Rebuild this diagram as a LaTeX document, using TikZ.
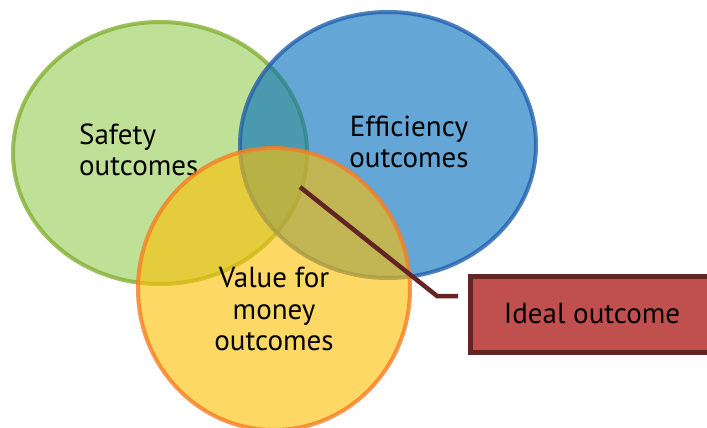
\documentclass[tikz,border=0pt]{standalone}
\usepackage{fontspec}
\setmainfont{PT Sans}
\begin{document}
\begin{tikzpicture}[x=1pt,y=-1pt,
  set/.style={line width=4pt, fill opacity=0.62, draw opacity=0.8},
  label/.style={font=\fontsize{29}{31.5}\selectfont, text=black, inner sep=0pt},
  callout/.style={line width=4.5pt, draw=linkbrown, line join=miter},
  ideabox/.style={draw=linkbrown, fill=idealred, line width=5pt, minimum width=244pt, minimum height=76pt, inner sep=0pt,
    font=\fontsize{29}{31.5}\selectfont, text=black}]
  \definecolor{greenfill}{RGB}{152,205,87}
  \definecolor{greenline}{RGB}{132,176,52}
  \definecolor{bluefill}{RGB}{5,111,189}
  \definecolor{blueline}{RGB}{35,97,172}
  \definecolor{yellowfill}{RGB}{252,192,5}
  \definecolor{orangeline}{RGB}{246,126,36}
  \definecolor{linkbrown}{RGB}{99,37,35}
  \definecolor{idealred}{RGB}{192,80,77}

  \useasboundingbox (0,0) rectangle (707,428);
  \clip (0,0) rectangle (707,428);

  % three overlapping outcome sets
  \draw[set, fill=greenfill, draw=greenline] (160,153) ellipse [x radius=147, y radius=131];
  \node[label, align=left, anchor=west] (safety) at (79,150) {Safety\\outcomes};
  \draw[set, fill=bluefill, draw=blueline] (388,145) ellipse [x radius=148, y radius=133];
  \node[label, align=center] (efficiency) at (409,142) {Efficiency\\outcomes};
  \draw[set, fill=yellowfill, draw=orangeline] (274,289) ellipse [x radius=136, y radius=141];
  \node[label, align=center] (value) at (274,309) {Value for\\money\\outcomes};

  % callout to the shared region
  \node[ideabox] (ideal) at (592,314) {Ideal outcome};
  \coordinate (core) at (300,187);
  \coordinate (bend) at (437,296);
  \coordinate (tail) at (458,296);
  \draw[callout] (core) -- (bend) -- (tail);
\end{tikzpicture}
\end{document}
